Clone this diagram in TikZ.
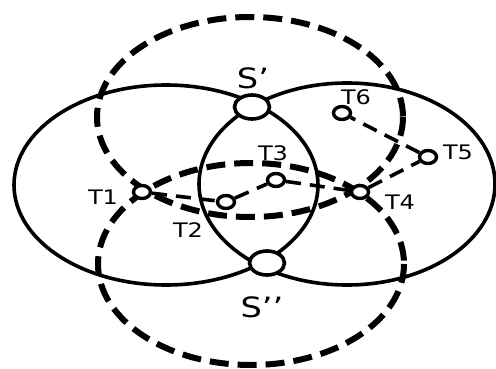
\documentclass[tikz,border=0pt]{standalone}
\usepackage{fontspec}
\setmainfont[FakeStretch=1.2]{DejaVu Sans}
\usetikzlibrary{shapes.geometric}

\begin{document}
\begin{tikzpicture}[x=1pt,y=-1pt,
  cover/.style={line width=3.6pt},
  reach/.style={line width=6pt,dash pattern=on 19pt off 9pt},
  route/.style={line width=3.6pt,dash pattern=on 15pt off 9pt},
  tag/.style={ellipse,draw,line width=3.4pt,fill=white,minimum width=17pt,minimum height=13pt,inner sep=0pt},
  sink/.style={ellipse,draw,line width=3.6pt,fill=white,minimum width=35pt,minimum height=24pt,inner sep=0pt},
  lbl/.style={font=\fontsize{20}{21}\selectfont},
  slbl/.style={font=\fontsize{28}{29}\selectfont},
]
\useasboundingbox (0,0) rectangle (496,369);
% ===== coverage areas =====
\draw[cover] (166,185) ellipse [x radius=152,y radius=100];
\draw[cover] (347,184) ellipse [x radius=148,y radius=101];
\draw[reach] (250,117) ellipse [x radius=153,y radius=100];
\draw[reach] (251,264) ellipse [x radius=153,y radius=101];

% ===== sinks =====
\node[sink] (s1) at (252,107) {};
\node[sink] (s2) at (267,263) {};
\node[slbl] (s1lbl) at (253,78) {S’};
\node[slbl] (s2lbl) at (262,307) {S’’};

% ===== targets =====
\node[tag] (T1) at (142,192) {};
\node[tag] (T2) at (226,202) {};
\node[tag] (T3) at (276,180) {};
\node[tag] (T4) at (360,192) {};
\node[tag] (T5) at (428,157) {};
\node[tag] (T6) at (342,113) {};
\draw[route] (T1) -- (T2) -- (T3) -- (T4) -- (T5) -- (T6);

\node[lbl] (t1lbl) at (103,197) {T1};
\node[lbl] (t2lbl) at (188,230) {T2};
\node[lbl] (t3lbl) at (273,153) {T3};
\node[lbl] (t4lbl) at (400,202) {T4};
\node[lbl] (t5lbl) at (458,152) {T5};
\node[lbl] (t6lbl) at (356,97) {T6};
\end{tikzpicture}
\end{document}
